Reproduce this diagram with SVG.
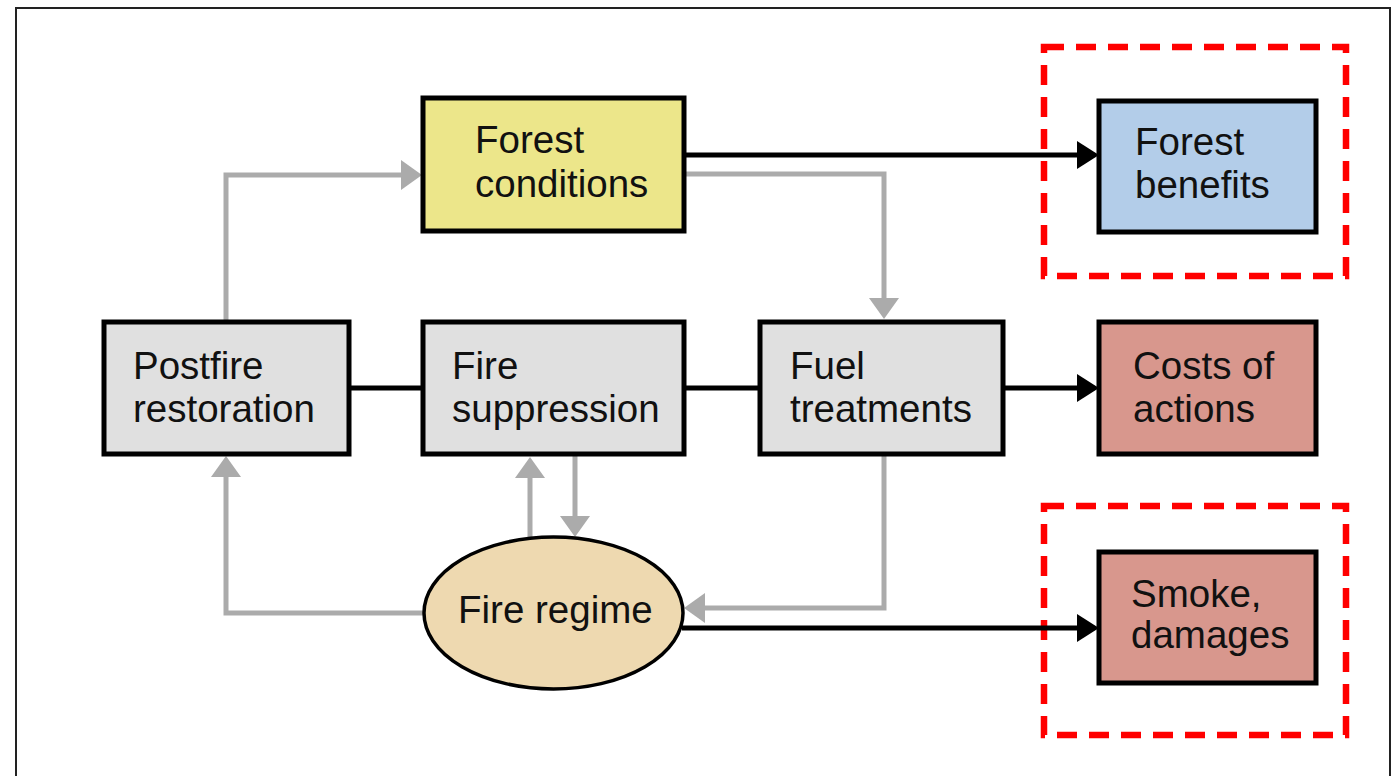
<svg xmlns="http://www.w3.org/2000/svg" width="1398" height="776" viewBox="0 0 1398 776">
  <style>
    .box { stroke: #000; stroke-width: 5; }
    .lbl { font-family: "Liberation Sans", Arial, sans-serif; font-size: 38.5px; fill: #111; }
    .gray { fill: none; stroke: #ababab; stroke-width: 5; }
    .blk { fill: none; stroke: #000; stroke-width: 5; }
    .dash { fill: none; stroke: #ff0000; stroke-width: 6.5; stroke-dasharray: 20 12; }
  </style>
  <defs>
    <marker id="ag" markerUnits="userSpaceOnUse" markerWidth="21" markerHeight="30" viewBox="0 0 21 30" refX="0" refY="15" orient="auto">
      <path d="M0,0 L21,15 L0,30 z" fill="#ababab"/>
    </marker>
    <marker id="ab" markerUnits="userSpaceOnUse" markerWidth="22" markerHeight="28" viewBox="0 0 22 28" refX="0" refY="14" orient="auto">
      <path d="M0,0 L22,14 L0,28 z" fill="#000"/>
    </marker>
  </defs>
  <rect width="1398" height="776" fill="#fff"/>
  <rect x="16" y="8" width="1374" height="800" fill="none" stroke="#222" stroke-width="2"/>

  <g id="highlights">
    <rect class="dash" x="1044" y="47" width="302" height="229"/>
    <rect class="dash" x="1044" y="506" width="302" height="229"/>
  </g>

  <g id="connectors">
    <path class="blk" d="M686,155 H1077" marker-end="url(#ab)"/>
    <path class="gray" d="M686,174 H884 V298" marker-end="url(#ag)"/>
    <path class="gray" d="M226,320 V175 H401" marker-end="url(#ag)"/>
    <path class="blk" d="M349,388 H423"/>
    <path class="blk" d="M684,388 H760"/>
    <path class="blk" d="M1003,388 H1077" marker-end="url(#ab)"/>
    <path class="gray" d="M424,613 H226 V477" marker-end="url(#ag)"/>
    <path class="gray" d="M530,537 V478" marker-end="url(#ag)"/>
    <path class="gray" d="M575,456 V516" marker-end="url(#ag)"/>
    <path class="gray" d="M884,456 V608 H705" marker-end="url(#ag)"/>
    <path class="blk" d="M682,628 H1077" marker-end="url(#ab)"/>
  </g>

  <g id="forest-conditions">
    <rect class="box" x="423" y="98" width="261" height="133" fill="#ece68a"/>
    <text class="lbl" x="475" y="153">Forest</text>
    <text class="lbl" x="475" y="197">conditions</text>
  </g>
  <g id="forest-benefits">
    <rect class="box" x="1099" y="101" width="217" height="131" fill="#b3cde9"/>
    <text class="lbl" x="1135" y="155">Forest</text>
    <text class="lbl" x="1135" y="198">benefits</text>
  </g>
  <g id="postfire-restoration">
    <rect class="box" x="104" y="322" width="245" height="132" fill="#e0e0e0"/>
    <text class="lbl" x="133" y="379">Postfire</text>
    <text class="lbl" x="133" y="422">restoration</text>
  </g>
  <g id="fire-suppression">
    <rect class="box" x="423" y="322" width="261" height="132" fill="#e0e0e0"/>
    <text class="lbl" x="452" y="379">Fire</text>
    <text class="lbl" x="452" y="422">suppression</text>
  </g>
  <g id="fuel-treatments">
    <rect class="box" x="760" y="322" width="243" height="132" fill="#e0e0e0"/>
    <text class="lbl" x="790" y="379">Fuel</text>
    <text class="lbl" x="790" y="422">treatments</text>
  </g>
  <g id="costs-of-actions">
    <rect class="box" x="1099" y="322" width="217" height="132" fill="#d8978d"/>
    <text class="lbl" x="1133" y="379">Costs of</text>
    <text class="lbl" x="1133" y="422">actions</text>
  </g>
  <g id="smoke-damages">
    <rect class="box" x="1099" y="552" width="217" height="131" fill="#d8978d"/>
    <text class="lbl" x="1131" y="607">Smoke,</text>
    <text class="lbl" x="1131" y="648">damages</text>
  </g>
  <g id="fire-regime">
    <ellipse cx="553.5" cy="613" rx="129.5" ry="76" fill="#eed9b0" stroke="#000" stroke-width="3.5"/>
    <text class="lbl" x="458" y="623">Fire regime</text>
  </g>
</svg>
